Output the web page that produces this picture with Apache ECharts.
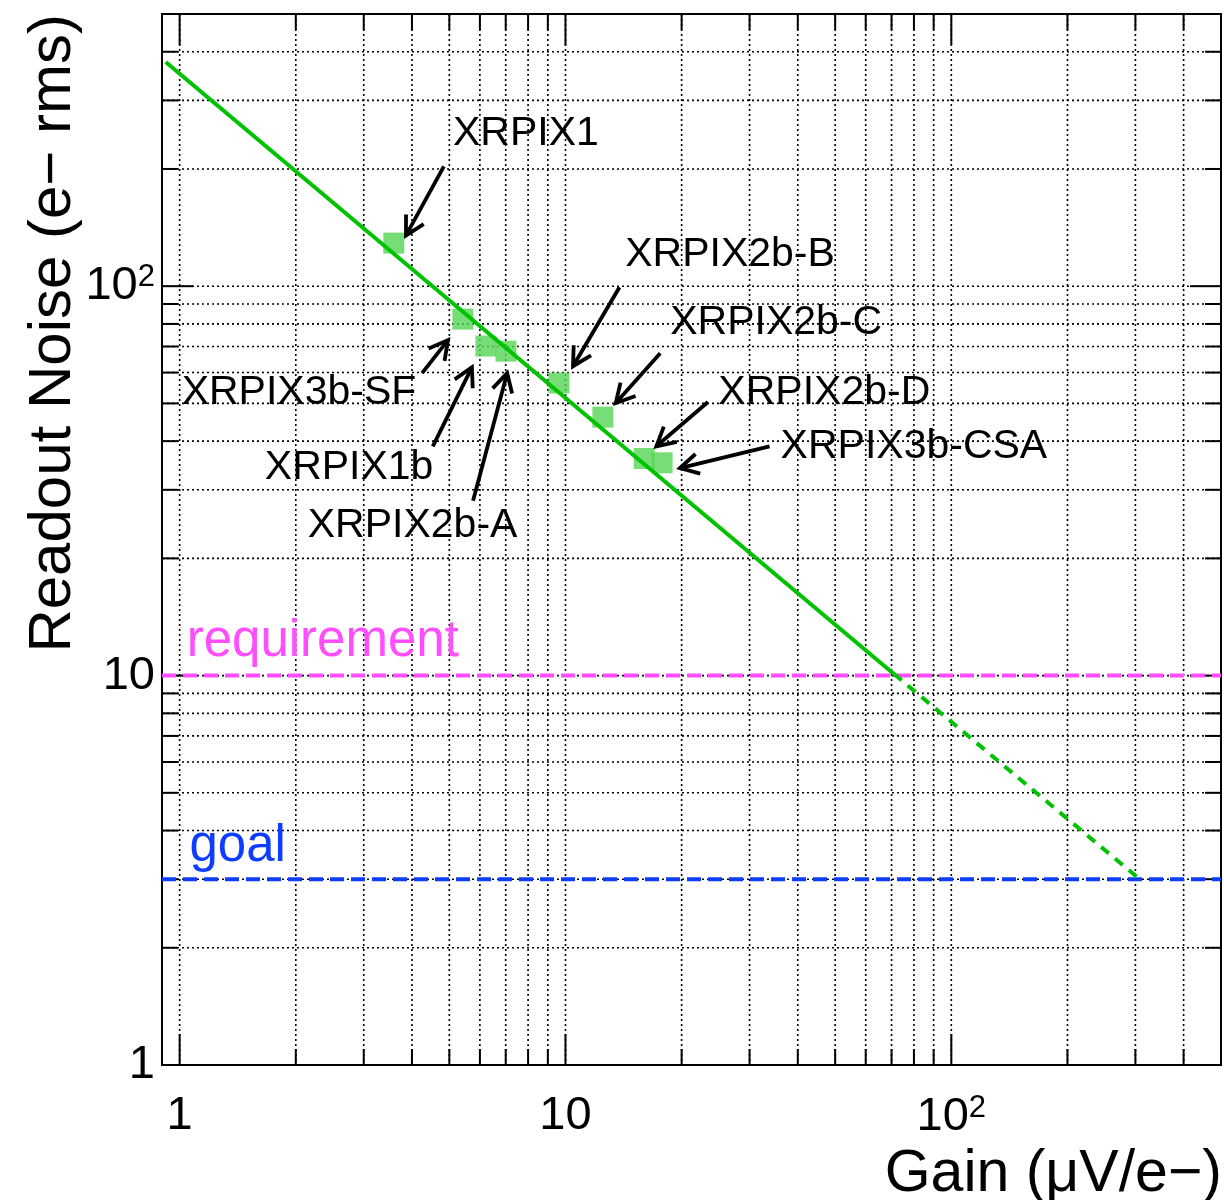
<!DOCTYPE html>
<html>
<head>
<meta charset="utf-8">
<script src="https://cdn.jsdelivr.net/npm/echarts@6/dist/echarts.min.js"></script>
<style>
html,body{margin:0;padding:0;background:#fff;}
#chart{width:1224px;height:1200px;}
</style>
</head>
<body>
<div id="chart"></div>
<script>
// ---- data ----
const chipNames = ['XRPIX1','XRPIX3b-SF','XRPIX1b','XRPIX2b-A','XRPIX2b-B','XRPIX2b-C','XRPIX2b-D','XRPIX3b-CSA'];
const gain  = [3.59, 5.42, 6.22, 7.01, 9.62, 12.5, 16.0, 17.8];   // μV/e-
const noise = [129, 82.3, 70.2, 68.1, 56.4, 46.1, 36.1, 35.2];    // e- rms

// label anchor (left edge, vertical middle)
const labelGain  = [5.11, 1.012, 1.662, 2.148, 14.28, 18.68, 24.9, 36.1];
const labelNoise = [247, 53.4, 34.1, 24.3, 120.8, 80.4, 53.4, 38.6];
// arrows: tail -> head
const arrowTailGain  = [4.84, 4.25, 4.53, 5.76, 13.8, 17.6, 23.4, 33.8];
const arrowTailNoise = [203, 59.8, 38.8, 28.1, 99.4, 67.3, 50.4, 38.8];
const arrowHeadGain  = [3.86, 4.96, 5.72, 7.06, 10.46, 13.5, 17.2, 19.8];
const arrowHeadNoise = [135, 72.7, 61.9, 59.8, 62.3, 50.1, 38.8, 34.1];

// fit line (solid part and dashed extrapolation)
const fitSolid  = [[0.92, 376.6], [71, 10.1]];
const fitDashed = [[71, 10.1], [303, 3.04]];

const requirement = 10;
const goal = 3;
const levelTexts = ['requirement', 'goal'];
const levelTextGain  = [1.043, 1.06];
const levelTextNoise = [10.5, 3.13];

const xMin = 0.9, xMax = 500;
const yMin = 1, yMax = 500;
const xTickVals = [1,2,3,4,5,6,7,8,9,10,20,30,40,50,60,70,80,90,100,200,300,400,500];
const yTickVals = [1,2,3,4,5,6,7,8,9,10,20,30,40,50,60,70,80,90,100,200,300,400,500];

// ---- chart ----
const FONT = '"Liberation Sans", Arial, Helvetica, sans-serif';
const chart = echarts.init(document.getElementById('chart'), null, {renderer:'canvas'});

function isDecade(v){ const l = Math.log10(v); return Math.abs(l - Math.round(l)) < 1e-6; }
function decadeLabel(v){
  if (!isDecade(v)) return '';
  const e = Math.round(Math.log10(v));
  if (e === 0) return '{n|1}';
  if (e === 1) return '{n|10}';
  return '{b|10}{s|' + e + '}';
}
const richLbl = {
  n: {fontSize: 47, fontFamily: FONT, color: '#000'},
  b: {fontSize: 47, fontFamily: FONT, color: '#000'},
  s: {fontSize: 31, fontFamily: FONT, color: '#000', verticalAlign: 'top', padding:[0,0,18,0]}
};

const option = {
  animation: false,
  backgroundColor: '#fff',
  grid: {left: 162, top: 14, right: 3, bottom: 135, show: true, borderColor: '#000', borderWidth: 2, backgroundColor: 'transparent'},
  xAxis: {
    type: 'log', logBase: 10, min: xMin, max: xMax,
    axisLine: {show: false}, axisTick: {show: false}, splitLine: {show: false},
    axisLabel: {formatter: decadeLabel, rich: richLbl, margin: 28, showMinLabel: true, showMaxLabel: true}
  },
  yAxis: {
    type: 'log', logBase: 10, min: yMin, max: yMax,
    axisLine: {show: false}, axisTick: {show: false}, splitLine: {show: false},
    axisLabel: {formatter: decadeLabel, rich: richLbl, margin: 7}
  },
  graphic: [
    {type: 'text', x: 1222, y: 1204, style: {text: 'Gain (μV/e−)', font: '59px ' + FONT, fill: '#000', align: 'right', verticalAlign: 'bottom'}},
    {type: 'text', x: 83, y: 14, rotation: Math.PI/2, style: {text: 'Readout Noise (e− rms)', font: '60px ' + FONT, fill: '#000', align: 'right', verticalAlign: 'bottom'}}
  ],
  series: [
    // vertical grid lines + x ticks
    {
      type: 'custom', z: 1, silent: true, clip: false,
      data: xTickVals.map(v => [v, yMin]),
      renderItem: function(params, api){
        const cs = params.coordSys;
        const x = api.coord([api.value(0), yMin])[0];
        const len = isDecade(api.value(0)) ? 31 : 16;
        const top = cs.y, bot = cs.y + cs.height;
        return {type: 'group', children: [
          {type: 'line', shape: {x1: x, y1: top, x2: x, y2: bot}, style: {stroke: '#000', lineWidth: 1.6, lineDash: [2, 3]}},
          {type: 'line', shape: {x1: x, y1: bot, x2: x, y2: bot - len}, style: {stroke: '#000', lineWidth: 2}},
          {type: 'line', shape: {x1: x, y1: top, x2: x, y2: top + len}, style: {stroke: '#000', lineWidth: 2}}
        ]};
      }
    },
    // horizontal grid lines + y ticks
    {
      type: 'custom', z: 1, silent: true, clip: false,
      data: yTickVals.map(v => [1, v]),
      renderItem: function(params, api){
        const cs = params.coordSys;
        const y = api.coord([1, api.value(1)])[1];
        const len = isDecade(api.value(1)) ? 31 : 16;
        const l = cs.x, r = cs.x + cs.width;
        return {type: 'group', children: [
          {type: 'line', shape: {x1: l, y1: y, x2: r, y2: y}, style: {stroke: '#000', lineWidth: 1.6, lineDash: [2, 3]}},
          {type: 'line', shape: {x1: l, y1: y, x2: l + len, y2: y}, style: {stroke: '#000', lineWidth: 2}},
          {type: 'line', shape: {x1: r, y1: y, x2: r - len, y2: y}, style: {stroke: '#000', lineWidth: 2}}
        ]};
      }
    },
    // requirement
    {
      type: 'line', z: 3, silent: true, showSymbol: false, symbol: 'none',
      data: [[xMin, requirement], [xMax, requirement]],
      lineStyle: {color: '#ff4dff', width: 4, type: [14, 7]}
    },
    // goal
    {
      type: 'line', z: 3, silent: true, showSymbol: false, symbol: 'none',
      data: [[xMin, goal], [xMax, goal]],
      lineStyle: {color: '#0d3dff', width: 4, type: [14, 7]}
    },
    // data points
    {
      type: 'scatter', z: 4, silent: true,
      symbol: 'rect', symbolSize: 21,
      itemStyle: {color: '#55d655'},
      data: gain.map((g, i) => [g, noise[i]])
    },
    // fit solid
    {
      type: 'line', z: 5, silent: true, showSymbol: false, symbol: 'none',
      data: fitSolid,
      lineStyle: {color: '#00c200', width: 4}
    },
    // fit dashed extrapolation
    {
      type: 'line', z: 5, silent: true, showSymbol: false, symbol: 'none',
      data: fitDashed,
      lineStyle: {color: '#00c200', width: 4, type: [10, 8]}
    },
    // arrows
    {
      type: 'custom', z: 6, silent: true, clip: false,
      data: arrowTailGain.map((g, i) => [g, arrowTailNoise[i], arrowHeadGain[i], arrowHeadNoise[i]]),
      renderItem: function(params, api){
        const p1 = api.coord([api.value(0), api.value(1)]);
        const p2 = api.coord([api.value(2), api.value(3)]);
        const ang = Math.atan2(p2[1] - p1[1], p2[0] - p1[0]);
        const hl = 21, ha = 0.5;
        const a1 = [p2[0] - hl * Math.cos(ang - ha), p2[1] - hl * Math.sin(ang - ha)];
        const a2 = [p2[0] - hl * Math.cos(ang + ha), p2[1] - hl * Math.sin(ang + ha)];
        const st = {stroke: '#000', lineWidth: 3.8, lineCap: 'butt', lineJoin: 'miter', fill: null};
        return {type: 'group', children: [
          {type: 'line', shape: {x1: p1[0], y1: p1[1], x2: p2[0], y2: p2[1]}, style: st},
          {type: 'polyline', shape: {points: [a1, p2, a2]}, style: st}
        ]};
      }
    },
    // chip labels
    {
      type: 'custom', z: 6, silent: true, clip: false,
      data: labelGain.map((g, i) => [g, labelNoise[i]]),
      renderItem: function(params, api){
        const p = api.coord([api.value(0), api.value(1)]);
        return {type: 'text', x: p[0], y: p[1], style: {text: chipNames[params.dataIndex], font: '41px ' + FONT, fill: '#000', align: 'left', verticalAlign: 'middle'}};
      }
    },
    // requirement / goal text
    {
      type: 'custom', z: 6, silent: true, clip: false,
      data: levelTextGain.map((g, i) => [g, levelTextNoise[i]]),
      renderItem: function(params, api){
        const p = api.coord([api.value(0), api.value(1)]);
        const col = params.dataIndex === 0 ? '#ff4dff' : '#0d3dff';
        return {type: 'text', x: p[0], y: p[1], style: {text: levelTexts[params.dataIndex], font: '51px ' + FONT, fill: col, align: 'left', verticalAlign: 'bottom'}};
      }
    }
  ]
};
chart.setOption(option);
</script>
</body>
</html>
